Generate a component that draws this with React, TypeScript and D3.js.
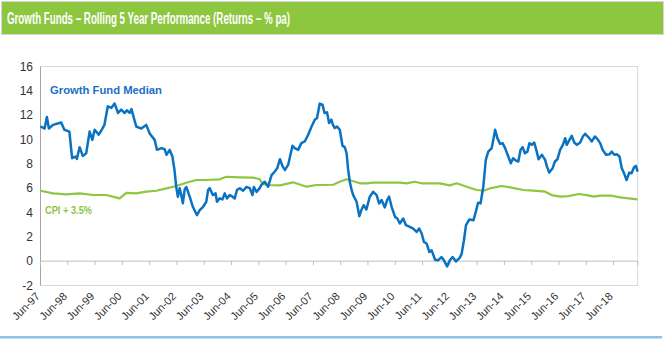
import React from "react";
import * as d3 from "d3";

const title = "Growth Funds – Rolling 5 Year Performance (Returns – % pa)";
const seriesNames = ["Growth Fund Median", "CPI + 3.5%"];

// months since Jun-97
const blueMonths = [
  0, 1.8, 2.8, 3.7, 5.5, 9.1, 10.5, 12.7, 13.9, 15.4, 16.0, 17.2, 18.6, 20.1, 21.6, 22.8, 23.8, 25.6, 26.7, 28.1,
  29.6, 31.2, 32.6, 34.1, 35.5, 37.0, 38.0, 39.2, 40.0, 42.1, 44.3, 46.5, 48.0, 50.2, 51.2, 53.2, 54.6, 55.4, 56.8, 58.0,
  58.9, 59.7, 60.4, 61.2, 61.9, 62.6, 63.4, 64.1, 65.6, 67.0, 68.8, 70.0, 71.5, 72.9, 73.7, 74.4, 75.8, 77.0, 77.6, 78.8,
  80.0, 81.0, 82.0, 83.2, 84.4, 85.4, 86.4, 87.6, 89.1, 90.6, 92.0, 93.2, 93.8, 95.0, 96.4, 97.1, 98.6, 100.1, 101.6, 103.0,
  104.1, 105.3, 106.5, 107.5, 108.9, 110.8, 111.8, 113.3, 114.7, 116.2, 117.7, 119.2, 120.6, 121.6, 122.8, 124.0, 124.9, 126.0, 126.9, 127.9,
  128.6, 129.4, 130.4, 131.6, 132.8, 133.8, 134.6, 135.3, 136.0, 136.8, 137.5, 139.0, 140.2, 141.1, 142.1, 143.3, 144.8, 146.3, 147.8, 148.9,
  150.0, 151.4, 152.4, 153.3, 154.4, 155.9, 156.9, 158.0, 159.5, 160.7, 162.4, 163.9, 165.4, 166.5, 167.6, 168.6, 169.8, 171.0, 172.0, 173.5,
  174.8, 176.3, 177.4, 178.8, 180.0, 181.2, 182.7, 184.4, 185.2, 186.2, 187.1, 188.6, 190.4, 191.4, 192.4, 193.5, 194.7, 195.4, 195.8, 196.9,
  198.4, 199.1, 199.9, 200.9, 202.1, 203.2, 204.3, 205.7, 206.8, 207.8, 209.0, 210.1, 211.1, 212.0, 213.0, 214.1, 215.0, 216.0, 217.1, 218.2,
  219.0, 220.5, 221.9, 222.7, 223.7, 225.2, 226.2, 227.3, 228.5, 229.7, 230.7, 231.4, 232.6, 233.6, 234.7, 235.9, 237.3, 238.5, 239.5, 240.9,
  242.4, 243.8, 244.9, 246.1, 247.2, 248.7, 250.2, 251.2, 252.3, 253.4, 254.6, 255.6, 256.6, 257.7, 258.9, 259.9, 261.0, 261.8, 262.6,
];
const blueValues = [
  11.07, 10.9, 11.85, 10.9, 11.2, 11.4, 10.8, 10.65, 8.46, 8.6, 8.4, 9.37, 8.65, 8.87, 10.65, 9.97, 10.8, 10.4, 10.72, 11.2,
  12.73, 12.6, 12.95, 12.18, 12.45, 12.18, 12.4, 12.18, 12.5, 11.07, 10.9, 11.2, 10.5, 9.97, 9.15, 9.29, 9.2, 8.74, 9.15, 8.6,
  7.5, 6.1, 5.3, 6.0, 5.43, 4.75, 5.9, 6.1, 5.3, 4.47, 3.78, 4.2, 4.47, 4.88, 5.85, 6.0, 5.43, 5.57, 4.88, 5.16,
  5.08, 5.57, 5.16, 5.43, 5.3, 5.16, 5.85, 6.0, 5.79, 6.1, 6.0, 5.43, 6.1, 5.7, 6.0, 6.26, 6.53, 6.12, 7.08, 7.36,
  7.64, 8.38, 7.77, 7.5, 7.91, 9.48, 9.29, 9.15, 9.7, 9.84, 10.39, 11.07, 11.63, 11.77, 12.95, 12.87, 12.18, 12.23, 11.35, 11.63,
  11.21, 10.94, 11.07, 10.8, 9.48, 9.37, 8.87, 7.5, 6.53, 5.85, 5.43, 4.88, 3.7, 4.2, 4.6, 4.25, 5.3, 5.7, 5.43, 4.75,
  5.02, 4.42, 5.02, 5.3, 4.47, 3.64, 3.51, 3.1, 3.51, 2.96, 2.82, 2.68, 2.4, 2.68, 2.27, 1.58, 1.45, 0.75, 0.89, 0.12,
  0.07, 0.34, 0.07, -0.43, 0.07, 0.34, -0.02, 0.29, 0.62, 1.72, 2.96, 3.43, 3.37, 4.05, 4.8, 4.75, 6.12, 7.5, 8.32, 9.0,
  9.29, 9.97, 10.8, 10.11, 9.64, 9.7, 9.29, 8.6, 8.05, 8.46, 8.27, 8.19, 9.15, 9.37, 8.87, 9.0, 9.7, 9.56, 9.75, 9.0,
  8.38, 8.74, 8.32, 7.77, 7.28, 7.64, 8.19, 8.38, 9.15, 9.56, 10.11, 9.56, 9.97, 10.3, 9.75, 9.56, 9.75, 10.25, 10.47, 10.2,
  9.84, 10.25, 10.03, 9.7, 9.15, 8.74, 8.78, 9.0, 8.74, 8.78, 8.6, 7.64, 7.22, 6.67, 7.28, 7.22, 7.72, 7.83, 7.36,
];

const greenMonths = [
  0, 5.5, 11.3, 17.2, 23.1, 28.9, 34.8, 37.8, 42.1, 46.5, 50.9, 55.4, 59.7, 64.1, 68.5, 72.9, 78.8, 81.7, 87.6, 93.4,
  94.9, 96.4, 97.8, 100.1, 105.3, 111.0, 117.0, 121.4, 128.7, 131.6, 134.6, 136.8, 140.5, 143.3, 146.3, 152.2, 158.0, 161.0, 164.6, 167.6,
  175.6, 180.0, 183.0, 187.4, 191.8, 194.8, 197.6, 202.8, 206.5, 212.3, 216.7, 221.9, 224.8, 228.5, 232.2, 236.6, 240.3, 243.2, 246.1, 251.2,
  254.9, 258.5, 262.5,
];
const greenValues = [
  5.79, 5.57, 5.49, 5.57, 5.44, 5.44, 5.16, 5.62, 5.57, 5.71, 5.79, 5.98, 6.18, 6.45, 6.67, 6.67, 6.73, 6.94, 6.89, 6.86,
  6.81, 6.73, 6.34, 6.26, 6.23, 6.48, 6.12, 6.26, 6.28, 6.53, 6.73, 6.61, 6.4, 6.4, 6.45, 6.45, 6.45, 6.4, 6.53, 6.4,
  6.4, 6.23, 6.4, 6.12, 5.85, 5.79, 5.98, 6.18, 6.07, 5.85, 5.79, 5.71, 5.43, 5.3, 5.35, 5.52, 5.43, 5.3, 5.38, 5.38,
  5.24, 5.16, 5.08,
];

const yTicks = [-2, 0, 2, 4, 6, 8, 10, 12, 14, 16];
const xTickLabels = [
  "Jun-97", "Jun-98", "Jun-99", "Jun-00", "Jun-01", "Jun-02", "Jun-03", "Jun-04", "Jun-05", "Jun-06", "Jun-07",
  "Jun-08", "Jun-09", "Jun-10", "Jun-11", "Jun-12", "Jun-13", "Jun-14", "Jun-15", "Jun-16", "Jun-17", "Jun-18",
];

const BLUE = "#0a72c2";
const GREEN = "#8dc63f";

export default function App() {
  const W = 665;
  const H = 343;
  const x = d3.scaleLinear().domain([0, 262.6]).range([40.5, 637.7]);
  const y = d3.scaleLinear().domain([-2, 16]).range([285.5, 66.5]);

  const blueData = blueMonths.map((m, i) => [m, blueValues[i]] as [number, number]);
  const greenData = greenMonths.map((m, i) => [m, greenValues[i]] as [number, number]);
  const line = d3
    .line<[number, number]>()
    .x((d) => x(d[0]))
    .y((d) => y(d[1]));

  const tickMonths = d3.range(0, 263, 12);
  const font = "Arial, 'Liberation Sans', sans-serif";

  return (
    <svg
      width={W}
      height={H}
      style={{ position: "fixed", left: 0, top: 0, background: "#fff" }}
    >
      <rect x={1.5} y={1.5} width={662} height={33} fill={GREEN} stroke="#d6d6d6" strokeWidth={1} />
      <text
        x={7}
        y={24}
        fill="#fff"
        fontFamily="'Liberation Sans Narrow', 'Arial Narrow', Arial, sans-serif"
        fontWeight="bold"
        fontSize={16}
        textLength={283}
        lengthAdjust="spacingAndGlyphs"
      >
        {title}
      </text>

      {/* plot frame */}
      <rect
        x={x(0)}
        y={y(16)}
        width={x(262.6) - x(0)}
        height={y(-2) - y(16)}
        fill="none"
        stroke="#d9d9d9"
        strokeWidth={1}
      />
      <line x1={x(0)} x2={x(0)} y1={y(16)} y2={y(-2)} stroke="#a6a6a6" strokeWidth={1} />
      <line x1={x(0)} x2={x(262.6)} y1={y(0)} y2={y(0)} stroke="#bfbfbf" strokeWidth={1} />
      {tickMonths.concat([262.6]).map((m) => (
        <line key={"t" + m} x1={x(m)} x2={x(m)} y1={y(0)} y2={y(0) + 4} stroke="#bfbfbf" strokeWidth={1} />
      ))}

      {yTicks.map((t) => (
        <text
          key={"y" + t}
          x={33}
          y={y(t)}
          dy="0.36em"
          textAnchor="end"
          fontFamily={font}
          fontSize={12}
          fill="#333"
        >
          {t}
        </text>
      ))}

      {xTickLabels.map((lab, i) => {
        const px = x(i * 12);
        const py = 297;
        return (
          <text
            key={lab}
            x={px}
            y={py}
            textAnchor="end"
            transform={`rotate(-45 ${px} ${py})`}
            fontFamily={font}
            fontSize={11}
            fill="#333"
          >
            {lab}
          </text>
        );
      })}

      <path d={line(greenData) || ""} fill="none" stroke={GREEN} strokeWidth={2.2} strokeLinejoin="round" />
      <path d={line(blueData) || ""} fill="none" stroke={BLUE} strokeWidth={2.5} strokeLinejoin="round" />

      <text x={50} y={94} fontFamily={font} fontWeight="bold" fontSize={11} fill="#1a6fc4" textLength={112} lengthAdjust="spacingAndGlyphs">
        {seriesNames[0]}
      </text>
      <text x={45} y={214} fontFamily={font} fontWeight="bold" fontSize={11} fill={GREEN} textLength={47} lengthAdjust="spacingAndGlyphs">
        {seriesNames[1]}
      </text>

      <rect x={0} y={336} width={662} height={2.5} fill="#8ec3e6" />
    </svg>
  );
}
